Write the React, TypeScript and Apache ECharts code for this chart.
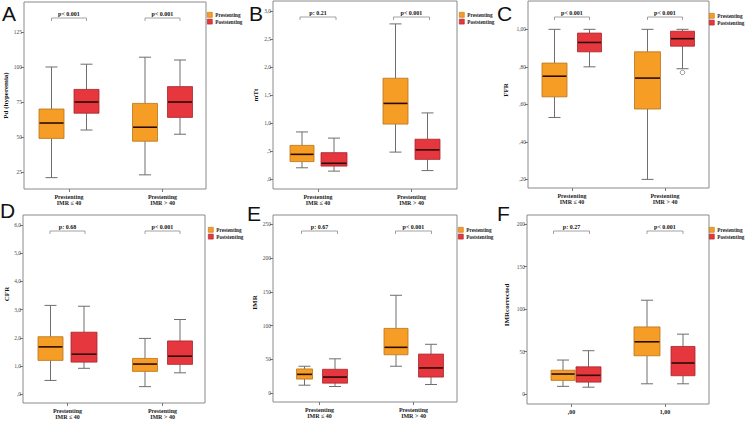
import React, { useEffect, useRef } from 'react';
import * as echarts from 'echarts';

const SERIF = '"Liberation Serif", "Times New Roman", serif';
const SANS = '"Liberation Sans", Arial, sans-serif';

// ---------- data ----------
const seriesNames = ['Prestenting', 'Poststenting'];
const groupsIMR = ['Prestenting\nIMR ≤ 40', 'Prestenting\nIMR > 40'];
const groupsBinary = [',00', '1,00'];

// box statistics per group: [min, Q1, median, Q3, max]
const pdPre = [[21, 49, 60, 70, 100], [23, 47, 57, 74, 107]];
const pdPost = [[55, 67, 75, 84, 102], [52, 64, 75, 86, 105]];
const pdP = ['p< 0.001', 'p< 0.001'];
const pdTicks = [25, 50, 75, 100, 125];
const pdTickLabels = ['25', '50', '75', '100', '125'];

const mttPre = [[0.2, 0.31, 0.44, 0.6, 0.84], [0.48, 0.98, 1.35, 1.8, 2.77]];
const mttPost = [[0.14, 0.23, 0.28, 0.47, 0.73], [0.15, 0.35, 0.52, 0.71, 1.18]];
const mttP = ['p: 0.21', 'p< 0.001'];
const mttTicks = [0, 0.5, 1, 1.5, 2, 2.5, 3];
const mttTickLabels = [',0', ',5', '1,0', '1,5', '2,0', '2,5', '3,0'];

const ffrPre = [[0.53, 0.64, 0.75, 0.82, 1.0], [0.2, 0.575, 0.74, 0.88, 1.0]];
const ffrPost = [[0.8, 0.88, 0.93, 0.98, 1.0], [0.79, 0.91, 0.95, 0.99, 1.0]];
const ffrPostOutliers = [[1, 0.77]];
const ffrP = ['p< 0.001', 'p< 0.001'];
const ffrTicks = [0.2, 0.4, 0.6, 0.8, 1.0];
const ffrTickLabels = [',20', ',40', ',60', ',80', '1,00'];

const cfrPre = [[0.49, 1.2, 1.68, 2.04, 3.15], [0.27, 0.81, 1.07, 1.27, 1.98]];
const cfrPost = [[0.92, 1.14, 1.42, 2.2, 3.12], [0.76, 1.06, 1.35, 1.89, 2.65]];
const cfrP = ['p: 0.68', 'p< 0.001'];
const cfrTicks = [0, 1, 2, 3, 4, 5, 6];
const cfrTickLabels = [',0', '1,0', '2,0', '3,0', '4,0', '5,0', '6,0'];

const imrPre = [[12, 21, 28, 36, 40], [40, 57, 68, 96, 145]];
const imrPost = [[10, 15, 24, 35.5, 51], [13, 24, 37.5, 58, 72.5]];
const imrP = ['p: 0.67', 'p< 0.001'];
const imrTicks = [0, 50, 100, 150, 200, 250];
const imrTickLabels = ['0', '50', '100', '150', '200', '250'];

const imrcPre = [[9, 16, 23.5, 28, 40], [12, 45, 61.5, 79, 110.5]];
const imrcPost = [[8, 14, 22, 32, 51], [12, 21.5, 36.5, 56, 70.5]];
const imrcP = ['p: 0.27', 'p< 0.001'];
const imrcTicks = [0, 50, 100, 150, 200];
const imrcTickLabels = ['0', '50', '100', '150', '200'];

// ---------- styles / layout ----------
const FILL = ['#F59D25', '#E6373E'];
const EDGE = ['#B8741A', '#A3262B'];
const MEDIAN = '#2a0c05';
const WHISKER = '#6e6e6e';
const FRAME = '#8a8a8a';

const panels = [
  { letter: 'A', lx: 2, ly: 14, yName: 'Pd (hyperemia)', nameGap: 11, namePad: 0,
    frame: [24, 2, 182, 187], centers: [69, 162.5], offsets: [[-17.5, 17.5], [-17.5, 17.5]],
    bw: [[25, 25], [25, 25]], half: 17.5, yMin: 12.9, yMax: 146.4,
    ticks: pdTicks, tickLabels: pdTickLabels, groups: groupsIMR, stats: [pdPre, pdPost], pvals: pdP, legend: [207, 12] },
  { letter: 'B', lx: 249, ly: 14, yName: 'mTt', nameGap: 13.5, namePad: 0,
    frame: [273, 1, 184, 188], centers: [318, 411.5], offsets: [[-16, 16], [-16, 16]],
    bw: [[24, 26], [25, 25]], half: 18, yMin: -0.179, yMax: 3.179,
    ticks: mttTicks, tickLabels: mttTickLabels, groups: groupsIMR, stats: [mttPre, mttPost], pvals: mttP, legend: [459, 12] },
  { letter: 'C', lx: 497, ly: 14, yName: 'FFR', nameGap: 19, namePad: 9,
    frame: [528, 1, 181, 187], centers: [572, 665], offsets: [[-17.5, 17.5], [-17.5, 17.5]],
    bw: [[25, 24], [26, 24]], half: 17.5, yMin: 0.154, yMax: 1.151,
    ticks: ffrTicks, tickLabels: ffrTickLabels, groups: groupsIMR, stats: [ffrPre, ffrPost], pvals: ffrP, legend: [709, 13] },
  { letter: 'D', lx: 0, ly: 211, yName: 'CFR', nameGap: 7, namePad: 30,
    frame: [23, 215, 182, 188], centers: [67.5, 162.5], offsets: [[-17, 16.5], [-17.5, 17.5]],
    bw: [[25, 26], [25, 25]], half: 17.5, yMin: -0.31, yMax: 6.355,
    ticks: cfrTicks, tickLabels: cfrTickLabels, groups: groupsIMR, stats: [cfrPre, cfrPost], pvals: cfrP, legend: [208, 227] },
  { letter: 'E', lx: 247, ly: 214, yName: 'IMR', nameGap: 14.5, namePad: 12,
    frame: [273, 215, 184, 187], centers: [319.5, 413.5], offsets: [[-15, 15.5], [-17.5, 17.5]],
    bw: [[16, 25], [24, 25]], half: 18, yMin: -12.9, yMax: 263.8,
    ticks: imrTicks, tickLabels: imrTickLabels, groups: groupsIMR, stats: [imrPre, imrPost], pvals: imrP, legend: [458, 227] },
  { letter: 'F', lx: 497, ly: 214, yName: 'IMRcorrected', nameGap: 16.5, namePad: 9,
    frame: [527, 215, 182, 189], centers: [571.5, 665], offsets: [[-8.5, 17], [-18, 18]],
    bw: [[24, 25], [26, 24]], half: 18, yMin: -11.8, yMax: 210.9,
    ticks: imrcTicks, tickLabels: imrcTickLabels, groups: groupsBinary, stats: [imrcPre, imrcPost], pvals: imrcP, legend: [709, 227] },
];

function buildOption() {
  const grid: any[] = [];
  const xAxis: any[] = [];
  const yAxis: any[] = [];
  const series: any[] = [];
  const legend: any[] = [];
  const graphic: any[] = [];

  panels.forEach((p, pi) => {
    const [L, T, W, H] = p.frame;
    const unit = p.centers[1] - p.centers[0];
    const xMin = -(p.centers[0] - L) / unit;
    const xMax = (L + W - p.centers[0]) / unit;

    grid.push({ left: L, top: T, width: W, height: H, show: true, borderColor: FRAME, borderWidth: 1, backgroundColor: '#fff' });

    xAxis.push({
      type: 'value', gridIndex: pi, min: xMin, max: xMax, position: 'bottom',
      axisLine: { show: false, onZero: false }, splitLine: { show: false },
      axisTick: { show: true, customValues: [0, 1], length: 3, lineStyle: { color: '#777', width: 1 } },
      axisLabel: {
        customValues: [0, 1], margin: 5,
        formatter: (v: number) => p.groups[Math.round(v)] ?? '',
        fontSize: 6, lineHeight: 6, fontWeight: 'bold', fontFamily: SERIF, color: '#222',
      },
    });

    yAxis.push({
      type: 'value', gridIndex: pi, min: p.yMin, max: p.yMax, position: 'left',
      axisLine: { show: false, onZero: false }, splitLine: { show: false },
      axisTick: { show: true, customValues: p.ticks, length: 3, lineStyle: { color: '#777', width: 1 } },
      axisLabel: {
        customValues: p.ticks, margin: 2,
        formatter: (v: number) => {
          const i = p.ticks.findIndex((t) => Math.abs(t - v) < 1e-6);
          return i >= 0 ? p.tickLabels[i] : '';
        },
        fontSize: 5.5, fontFamily: SERIF, color: '#4a4a4a',
      },
      name: p.yName, nameLocation: 'middle', nameRotate: 90, nameGap: p.nameGap,
      nameTextStyle: { fontSize: 7, fontWeight: 'bold', fontFamily: SERIF, color: '#111', padding: [0, 0, 0, p.namePad] },
    });

    seriesNames.forEach((sn, si) => {
      series.push({
        type: 'custom', name: sn, xAxisIndex: pi, yAxisIndex: pi,
        itemStyle: { color: FILL[si], borderColor: EDGE[si], borderWidth: 0.6 },
        encode: { x: 0, y: [1, 2, 3, 4, 5] },
        data: p.stats[si].map((s, g) => [g, ...s]),
        silent: true,
        renderItem: (params: any, api: any) => {
          const g = api.value(0);
          const cx = api.coord([g, p.yMin])[0] + p.offsets[g][si];
          const ys = [1, 2, 3, 4, 5].map((k) => api.coord([g, api.value(k)])[1]);
          const w = p.bw[g][si];
          const cap = 12;
          const ln = (x1: number, y1: number, x2: number, y2: number, stroke: string, lw: number) => ({
            type: 'line', shape: { x1, y1, x2, y2 }, style: { stroke, lineWidth: lw },
          });
          return {
            type: 'group',
            children: [
              ln(cx, ys[0], cx, ys[1], WHISKER, 1),
              ln(cx, ys[3], cx, ys[4], WHISKER, 1),
              ln(cx - cap / 2, ys[0], cx + cap / 2, ys[0], WHISKER, 1),
              ln(cx - cap / 2, ys[4], cx + cap / 2, ys[4], WHISKER, 1),
              { type: 'rect', shape: { x: cx - w / 2, y: ys[3], width: w, height: ys[1] - ys[3] },
                style: { fill: FILL[si], stroke: EDGE[si], lineWidth: 0.8 } },
              ln(cx - w / 2 + 0.5, ys[2], cx + w / 2 - 0.5, ys[2], MEDIAN, 1.6),
            ],
          };
        },
      });
    });

    // significance brackets
    series.push({
      type: 'custom', xAxisIndex: pi, yAxisIndex: pi, silent: true,
      encode: { x: 0, y: 1 },
      data: p.pvals.map((_, g) => [g, p.yMin]),
      renderItem: (params: any, api: any) => {
        const g = api.value(0);
        const cx = api.coord([g, p.yMin])[0];
        const yl = params.coordSys.y + 16;
        const hw = p.half;
        return {
          type: 'group',
          children: [
            { type: 'polyline', shape: { points: [[cx - hw, yl + 3], [cx - hw, yl], [cx + hw, yl], [cx + hw, yl + 3]] },
              style: { stroke: '#8a8a8a', lineWidth: 0.8, fill: 'none' } },
            { type: 'text', style: { text: p.pvals[params.dataIndex], x: cx, y: yl - 1.5, align: 'center', verticalAlign: 'bottom',
              fontSize: 6, fontWeight: 'bold', fontFamily: SERIF, fill: '#111' } },
          ],
        };
      },
    });

    legend.push({
      data: seriesNames.map((n) => ({ name: n })),
      orient: 'vertical', left: p.legend[0], top: p.legend[1], padding: 0,
      itemWidth: 5, itemHeight: 5, itemGap: 1.2, icon: 'rect', selectedMode: false,
      itemStyle: { borderWidth: 0.6 },
      textStyle: { fontSize: 5.2, lineHeight: 5, fontWeight: 'bold', fontFamily: SERIF, color: '#222', padding: [0, 0, 0, -2] },
    });

    graphic.push({
      type: 'text', left: p.lx, top: p.ly - 11, silent: true,
      style: { text: p.letter, fontSize: 21, fontFamily: SANS, fill: '#111' },
    });
  });

  // outlier in FFR panel (Poststenting, IMR > 40)
  series.push({
    type: 'scatter', xAxisIndex: 2, yAxisIndex: 2, silent: true,
    data: ffrPostOutliers,
    symbol: 'circle', symbolSize: 4.5,
    symbolOffset: [panels[2].offsets[1][1], 0],
    itemStyle: { color: '#fff', borderColor: '#555', borderWidth: 0.8 },
  });

  return {
    animation: false,
    backgroundColor: '#fff',
    textStyle: { fontFamily: SERIF },
    grid, xAxis, yAxis, series, legend, graphic,
  };
}

export default function App() {
  const ref = useRef<HTMLDivElement>(null);
  useEffect(() => {
    if (!ref.current) return;
    const chart = echarts.init(ref.current, null, { renderer: 'svg' });
    chart.setOption(buildOption() as any);
    return () => chart.dispose();
  }, []);
  return <div ref={ref} style={{ position: 'fixed', left: 0, top: 0, width: 745, height: 421, background: '#fff' }} />;
}
